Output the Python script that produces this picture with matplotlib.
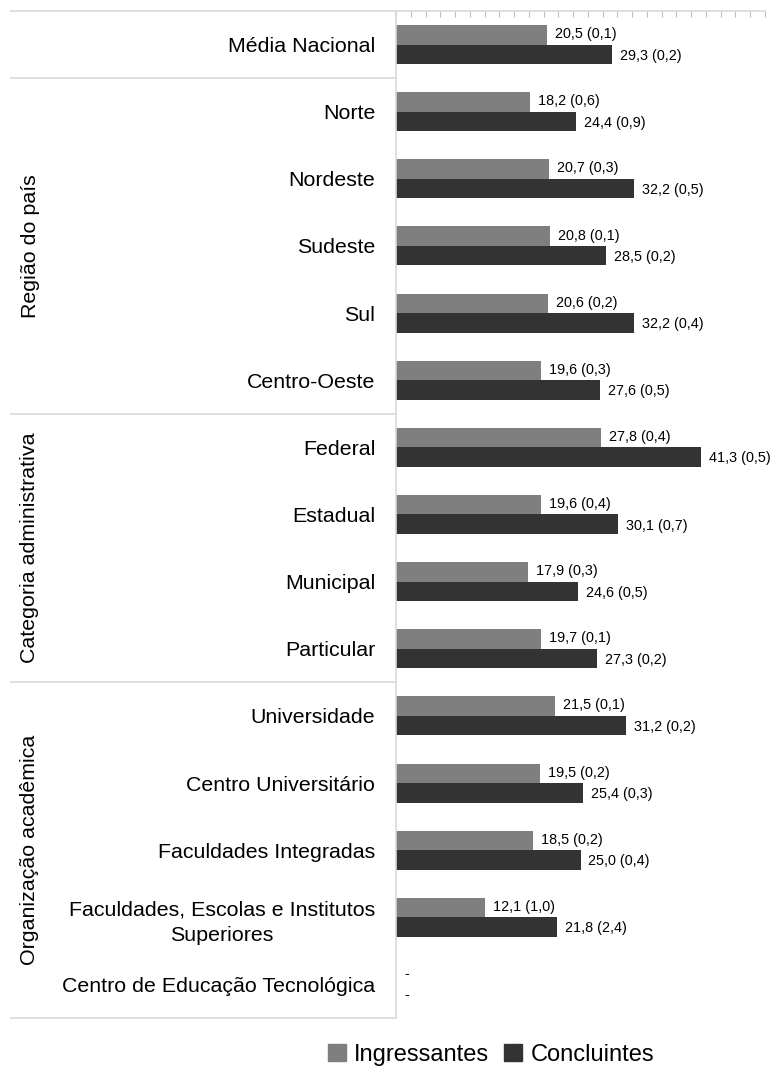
import matplotlib
matplotlib.use("Agg")
import matplotlib.pyplot as plt
import matplotlib.transforms as mtransforms
from matplotlib.patches import Patch

plt.rcParams["font.family"] = ["Liberation Sans", "DejaVu Sans"]

# --- data ---
categories = [
    "Média Nacional",
    "Norte", "Nordeste", "Sudeste", "Sul", "Centro-Oeste",
    "Federal", "Estadual", "Municipal", "Particular",
    "Universidade", "Centro Universitário", "Faculdades Integradas",
    "Faculdades, Escolas e Institutos\nSuperiores",
    "Centro de Educação Tecnológica",
]
ingressantes = [20.5, 18.2, 20.7, 20.8, 20.6, 19.6, 27.8, 19.6, 17.9, 19.7,
                21.5, 19.5, 18.5, 12.1, None]
ingressantes_se = [0.1, 0.6, 0.3, 0.1, 0.2, 0.3, 0.4, 0.4, 0.3, 0.1,
                   0.1, 0.2, 0.2, 1.0, None]
concluintes = [29.3, 24.4, 32.2, 28.5, 32.2, 27.6, 41.3, 30.1, 24.6, 27.3,
               31.2, 25.4, 25.0, 21.8, None]
concluintes_se = [0.2, 0.9, 0.5, 0.2, 0.4, 0.5, 0.5, 0.7, 0.5, 0.2,
                  0.2, 0.3, 0.4, 2.4, None]
groups = ["Região do país", "Categoria administrativa", "Organização acadêmica"]
group_spans = [(1, 5), (6, 9), (10, 14)]

GRAY = "#7f7f7f"
DARK = "#333333"
LINE = "#d9d9d9"


def fmt(v, se):
    if v is None:
        return "-"
    return f"{v:.1f} ({se:.1f})".replace(".", ",")


fig = plt.figure(figsize=(7.8, 10.7), dpi=100)
W, H = 780, 1070
ax_left, ax_right, ax_top, ax_bot = 396, 765, 11, 1018
ax = fig.add_axes([ax_left / W, 1 - ax_bot / H,
                   (ax_right - ax_left) / W, (ax_bot - ax_top) / H])

n = len(categories)
ys = list(range(n))
bh = 0.29
ing_vals = [v if v is not None else 0 for v in ingressantes]
con_vals = [v if v is not None else 0 for v in concluintes]
ax.barh([y - bh / 2 for y in ys], ing_vals, height=bh, color=GRAY)
ax.barh([y + bh / 2 for y in ys], con_vals, height=bh, color=DARK)

offset = mtransforms.offset_copy(ax.transData, fig=fig, x=8, y=0, units="dots")
for y, v, se in zip(ys, ingressantes, ingressantes_se):
    ax.text(v or 0, y - bh / 2 - 0.01, fmt(v, se), transform=offset,
            va="center", ha="left", fontsize=10.4, color="black")
for y, v, se in zip(ys, concluintes, concluintes_se):
    ax.text(v or 0, y + bh / 2 + 0.02, fmt(v, se), transform=offset,
            va="center", ha="left", fontsize=10.4, color="black")

ax.set_xlim(0, 50)
ax.set_ylim(n - 0.5, -0.5)

# axis styling
for s in ["right", "bottom"]:
    ax.spines[s].set_visible(False)
ax.spines["top"].set_color(LINE)
ax.spines["left"].set_color(LINE)
ax.spines["top"].set_linewidth(1.2)
ax.spines["left"].set_linewidth(1.2)
ax.xaxis.set_ticks_position("top")
ax.set_xticks(range(0, 51, 2))
ax.tick_params(axis="x", direction="in", length=4, width=0.8, color="#bfbfbf",
               labeltop=False, labelbottom=False)
ax.set_yticks(ys)
ax.set_yticklabels(categories, fontsize=15.4)
ax.tick_params(axis="y", length=0, pad=15)
for lbl in ax.get_yticklabels():
    lbl.set_multialignment("center")
    lbl.set_linespacing(1.45)

# left table lines and group labels
blend = mtransforms.blended_transform_factory(ax.transAxes, ax.transData)
x0 = (10 - ax_left) / (ax_right - ax_left)
for yline in [-0.5, 0.5, 5.5, 9.5, n - 0.5]:
    ax.plot([x0, 0], [yline, yline], transform=blend, color=LINE, lw=1.2,
            clip_on=False, solid_capstyle="butt")
xg = (30 - ax_left) / (ax_right - ax_left)
for g, (a, b) in zip(groups, group_spans):
    ax.text(xg, (a + b) / 2, g, transform=blend, rotation=90, ha="center",
            va="center", fontsize=15.4)

handles = [Patch(color=GRAY, label="Ingressantes"),
           Patch(color=DARK, label="Concluintes")]
fig.legend(handles=handles, loc="center", bbox_to_anchor=(491 / W, 1 - 1055 / H),
           ncol=2, frameon=False, fontsize=17, handlelength=0.75,
           handleheight=0.75, handletextpad=0.35, columnspacing=0.65,
           borderpad=0.1)

fig.savefig("out.png", dpi=100)
